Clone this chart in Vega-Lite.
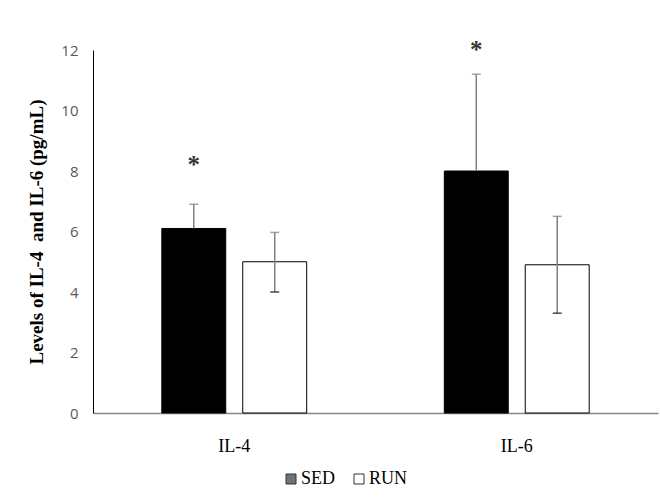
{
  "$schema": "https://vega.github.io/schema/vega-lite/v6.json",
  "width": 565,
  "height": 363,
  "autosize": {"type": "none"},
  "padding": {"left": 93, "top": 50, "right": 2, "bottom": 84},
  "background": "white",
  "config": {
    "view": {"stroke": null},
    "axis": {"grid": false, "ticks": false}
  },
  "data": {
    "values": [
      {"cytokine": "IL-4", "group": "SED", "value": 6.1, "lo": 6.1, "hi": 6.9, "star": 8.3},
      {"cytokine": "IL-4", "group": "RUN", "value": 5.0, "lo": 4.0, "hi": 5.97},
      {"cytokine": "IL-6", "group": "SED", "value": 8.0, "lo": 8.0, "hi": 11.2, "star": 12.1},
      {"cytokine": "IL-6", "group": "RUN", "value": 4.9, "lo": 3.3, "hi": 6.5}
    ]
  },
  "encoding": {
    "x": {
      "field": "cytokine",
      "type": "nominal",
      "scale": {"paddingInner": 0, "paddingOuter": 0},
      "axis": {
        "title": null,
        "labelAngle": 0,
        "domainColor": "#868686",
        "domainWidth": 1.5,
        "labelFont": "Liberation Serif",
        "labelFontSize": 18,
        "labelColor": "#000000",
        "labelPadding": 24
      }
    },
    "xOffset": {
      "field": "group",
      "type": "nominal",
      "sort": ["SED", "RUN"],
      "scale": {"paddingInner": 0.21, "paddingOuter": 0.85}
    }
  },
  "layer": [
    {
      "mark": {"type": "bar", "stroke": "#000000", "strokeWidth": 1},
      "encoding": {
        "y": {
          "field": "value",
          "type": "quantitative",
          "scale": {"domain": [0, 12], "nice": false},
          "axis": {
            "values": [0, 2, 4, 6, 8, 10, 12],
            "title": "Levels of IL-4 \u00a0and IL-6 (pg/mL)",
            "titleFont": "Liberation Serif",
            "titleFontSize": 19,
            "titleFontWeight": "bold",
            "titleColor": "#000000",
            "titlePadding": 14,
            "labelFont": "Open Sans",
            "labelFontSize": 15,
            "labelColor": "#595959",
            "labelPadding": 15,
            "domainColor": "#000000",
            "domainWidth": 1
          }
        },
        "fill": {
          "field": "group",
          "type": "nominal",
          "sort": ["SED", "RUN"],
          "scale": {"domain": ["SED", "RUN"], "range": ["#000000", "#ffffff"]},
          "legend": {
            "title": null,
            "orient": "none",
            "direction": "horizontal",
            "legendX": 189,
            "legendY": 420,
            "symbolType": "square",
            "symbolSize": 100,
            "symbolStrokeColor": "#333333",
            "symbolStrokeWidth": 1,
            "labelFont": "Liberation Serif",
            "labelFontSize": 18,
            "labelColor": "#000000",
            "labelOffset": 1,
            "columnPadding": 14,
            "encode": {"symbols": {"update": {"fillOpacity": {"value": 0.55}}}}
          }
        }
      }
    },
    {
      "mark": {"type": "rule", "color": "#7f7f7f", "strokeWidth": 1.5},
      "encoding": {
        "y": {"field": "lo", "type": "quantitative"},
        "y2": {"field": "hi"}
      }
    },
    {
      "mark": {"type": "tick", "color": "#7f7f7f", "size": 9, "thickness": 1.5},
      "encoding": {
        "y": {"field": "hi", "type": "quantitative"}
      }
    },
    {
      "transform": [{"filter": "datum.lo < datum.value"}],
      "mark": {"type": "tick", "color": "#000000", "size": 9, "thickness": 1.5},
      "encoding": {
        "y": {"field": "lo", "type": "quantitative"}
      }
    },
    {
      "transform": [{"filter": "isValid(datum.star)"}],
      "mark": {"type": "text", "text": "*", "font": "Liberation Serif", "fontSize": 25, "fontWeight": "bold", "color": "#333333", "baseline": "middle", "dy": 3},
      "encoding": {
        "y": {"field": "star", "type": "quantitative"}
      }
    }
  ]
}
